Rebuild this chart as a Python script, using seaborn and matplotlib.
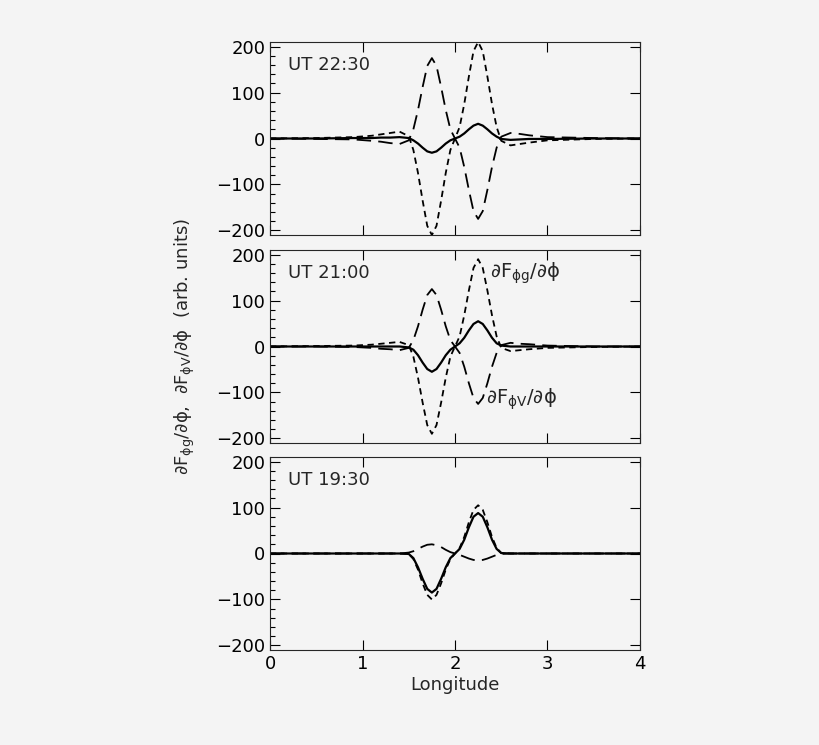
import matplotlib
matplotlib.use("Agg")
import matplotlib.pyplot as plt
import seaborn as sns
import pandas as pd
from matplotlib.ticker import MultipleLocator

x = [0, 0.5, 0.9, 1.1, 1.2, 1.3, 1.4, 1.5, 1.55, 1.6, 1.65, 1.7, 1.75, 1.8, 1.85, 1.9, 1.95, 2.0,
     2.05, 2.1, 2.15, 2.2, 2.25, 2.3, 2.35, 2.4, 2.45, 2.5, 2.6, 2.7, 2.8, 3.0, 3.5, 4.0]

g1 = [0, 1, 3, 6, 9, 12, 15, 5, -25, -75, -135, -190, -210, -190, -135, -75, -25, 0, 25, 75, 135, 190, 210, 190, 135, 75, 25, -5, -15, -12, -9, -4, -1, 0]
v1 = [0, -1, -2, -5, -7, -10, -12, -4, 20, 62, 112, 158, 175, 158, 112, 62, 20, 0, -20, -62, -112, -158, -175, -158, -112, -62, -20, 4, 12, 10, 7, 3, 1, 0]
s1 = [0, 0, 1, 1, 2, 2, 3, 1, -4, -11, -20, -28, -31, -28, -20, -11, -4, 0, 4, 11, 20, 28, 32, 28, 20, 11, 4, -1, -3, -2, -1, -1, 0, 0]
g2 = [0, 1, 2, 4, 6, 8, 10, 3, -22, -68, -122, -171, -190, -171, -122, -68, -22, 0, 22, 68, 122, 171, 190, 171, 122, 68, 22, -3, -10, -8, -6, -3, -1, 0]
v2 = [0, 0, -1, -3, -5, -6, -8, -3, 14, 44, 80, 112, 125, 112, 80, 44, 14, 0, -14, -44, -80, -112, -125, -112, -80, -44, -14, 3, 8, 6, 5, 2, 0, 0]
s2 = [0, 0, 0, 0, 0, 0, 0, -2, -7, -19, -35, -49, -55, -49, -35, -19, -7, 0, 7, 19, 35, 49, 55, 49, 35, 19, 7, 2, 0, 0, 0, 0, 0, 0]
g3 = [0, 0, 0, 0, 0, 0, 0, -1, -12, -35, -65, -90, -100, -90, -65, -35, -12, 0, 12, 36, 68, 95, 105, 95, 68, 36, 12, 1, 0, 0, 0, 0, 0, 0]
v3 = [0, 0, 0, 0, 0, 0, 0, 2, 5, 10, 15, 19, 20, 18, 14, 8, 3, 0, -3, -7, -11, -14, -15, -14, -11, -7, -3, -1, 0, 0, 0, 0, 0, 0]
s3 = [0, 0, 0, 0, 0, 0, 0, -1, -10, -30, -55, -77, -85, -77, -55, -30, -10, 0, 10, 30, 57, 80, 88, 80, 57, 30, 10, 1, 0, 0, 0, 0, 0, 0]

titles = ["UT 22:30", "UT 21:00", "UT 19:30"]
panels = [(g1, v1, s1), (g2, v2, s2), (g3, v3, s3)]

sns.set_style("ticks")
plt.rcParams['font.family'] = ['DejaVu Sans']
plt.rcParams['mathtext.default'] = 'regular'
bg = "#f4f4f4"
fig = plt.figure(figsize=(8.2, 7.45), dpi=100, facecolor=bg)
W, H = 820, 745
left, right = 270, 640
tops = [42, 250, 457]
ph = 193
axes = []
for i, (t, (g, v, s)) in enumerate(zip(titles, panels)):
    ax = fig.add_axes([left / W, 1 - (tops[i] + ph) / H, (right - left) / W, ph / H])
    ax.set_facecolor(bg)
    df = pd.DataFrame({"x": x, "g": g, "v": v, "s": s})
    sns.lineplot(data=df, x="x", y="g", ax=ax, color="black", lw=1.3)
    ax.lines[-1].set_dashes((3.5, 2.5))
    sns.lineplot(data=df, x="x", y="v", ax=ax, color="black", lw=1.3)
    ax.lines[-1].set_dashes((8, 4))
    sns.lineplot(data=df, x="x", y="s", ax=ax, color="black", lw=1.6)
    ax.set_xlim(0, 4)
    ax.set_ylim(-210, 210)
    ax.yaxis.set_major_locator(MultipleLocator(100))
    ax.yaxis.set_minor_locator(MultipleLocator(20))
    ax.xaxis.set_major_locator(MultipleLocator(1))
    ax.tick_params(which="both", direction="in", top=True, right=True, labelsize=13,
                   width=0.8, colors="black")
    ax.tick_params(which="minor", right=False, length=3.5)
    ax.tick_params(which="major", length=7)
    for sp in ax.spines.values():
        sp.set_linewidth(0.8)
    ax.set_ylabel("")
    ax.set_xlabel("")
    ax.text(0.05, 0.93, t, transform=ax.transAxes, fontsize=13, va="top")
    if i < 2:
        ax.set_xticklabels([])
    axes.append(ax)

axes[2].set_xlabel("Longitude", fontsize=13, labelpad=2)
axes[1].text(2.38, 150, r"$\partial F_{\phi g}/\partial\phi$", fontsize=14)
axes[1].text(2.33, -125, r"$\partial F_{\phi V}/\partial\phi$", fontsize=14)
fig.text(185 / W, 1 - 346 / H, r"$\partial F_{\phi g}/\partial\phi$,  $\partial F_{\phi V}/\partial\phi$  (arb. units)",
         rotation=90, fontsize=13, ha="center", va="center")
fig.savefig("out.png", dpi=100, facecolor=bg)
